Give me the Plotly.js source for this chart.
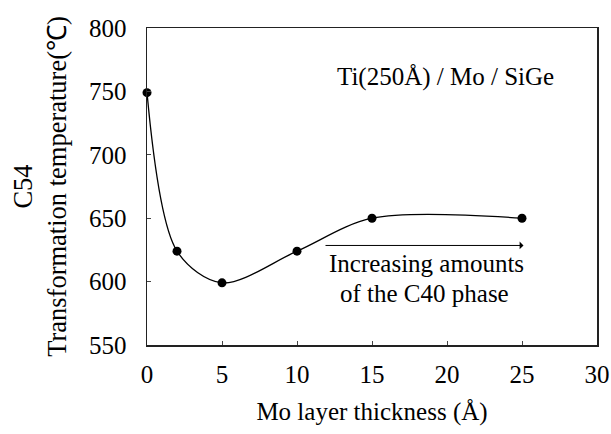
<!DOCTYPE html>
<html>
<head>
<meta charset="utf-8">
<script src="https://cdn.plot.ly/plotly-3.0.1.min.js"></script>
<style>html,body{margin:0;padding:0;background:#fff;}#chart{width:611px;height:434px;}</style>
</head>
<body>
<div id="chart"></div>
<script>
const moThickness = [0, 2, 5, 10, 15, 25];
const transformTemp = [749, 624, 599, 624, 650, 650];
const xTicks = [0, 5, 10, 15, 20, 25, 30];
const yTicks = [550, 600, 650, 700, 750, 800];

const serif = "Liberation Serif";
const fs = 25;

const trace = {
  x: moThickness,
  y: transformTemp,
  mode: 'lines+markers',
  line: {shape: 'spline', smoothing: 0.9, color: '#000', width: 1.3},
  marker: {color: '#000', size: 9},
  cliponaxis: false,
  hoverinfo: 'x+y'
};

const layout = {
  width: 611, height: 434,
  margin: {l: 147, r: 14, t: 28, b: 89},
  paper_bgcolor: '#fff', plot_bgcolor: '#fff',
  showlegend: false,
  font: {family: serif, color: '#000', size: fs},
  xaxis: {
    range: [0, 30], tickvals: xTicks, ticktext: xTicks.map(String),
    showgrid: false, zeroline: false,
    showline: true, mirror: true, linecolor: '#222', linewidth: 1.5,
    ticks: 'inside', ticklen: 4, tickcolor: '#444',
    ticklabelstandoff: 6,
    tickfont: {family: serif, size: fs, color: '#000'},
    title: {text: 'Mo layer thickness (Å)', font: {family: serif, size: fs, color: '#000'}, standoff: 16}
  },
  yaxis: {
    range: [550, 800], tickvals: yTicks, ticktext: yTicks.map(String),
    showgrid: false, zeroline: false,
    showline: true, mirror: true, linecolor: '#222', linewidth: 1.5,
    ticks: 'inside', ticklen: 4, tickcolor: '#444',
    ticklabelstandoff: 14,
    tickfont: {family: serif, size: fs, color: '#000'},
    title: {text: 'C54<br>Transformation temperature(℃)', font: {family: serif, size: 26.5, color: '#000'}, standoff: 14}
  },
  annotations: [
    {x: 19.9, y: 761, xref: 'x', yref: 'y', text: 'Ti(250Å) / Mo / SiGe', showarrow: false,
     font: {family: serif, size: fs, color: '#000'}},
    {x: 25.1, y: 628.5, ax: 11.8, ay: 628.5, xref: 'x', yref: 'y', axref: 'x', ayref: 'y',
     text: '', showarrow: true, arrowhead: 1, arrowsize: 1.3, arrowwidth: 1, arrowcolor: '#000'},
    {x: 18.6, y: 614.5, xref: 'x', yref: 'y', text: 'Increasing amounts', showarrow: false,
     font: {family: serif, size: fs, color: '#000'}},
    {x: 18.5, y: 591, xref: 'x', yref: 'y', text: 'of the C40 phase', showarrow: false,
     font: {family: serif, size: fs, color: '#000'}}
  ]
};

Plotly.newPlot('chart', [trace], layout, {displayModeBar: false, staticPlot: true});
</script>
</body>
</html>
